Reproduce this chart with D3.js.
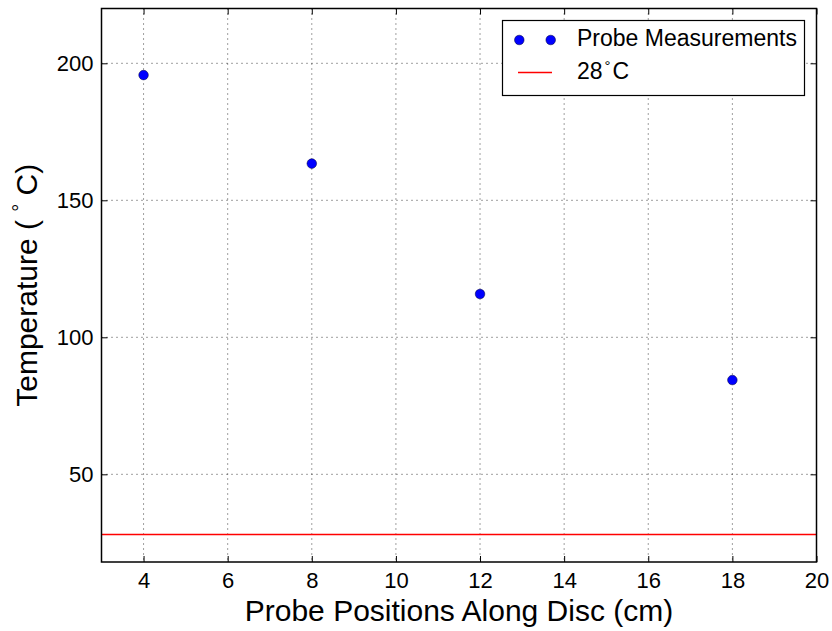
<!DOCTYPE html>
<html><head><meta charset="utf-8">
<script src="https://cdn.jsdelivr.net/npm/d3@7/dist/d3.min.js"></script>
<style>body{margin:0;background:#fff}svg{display:block}text{font-family:"Liberation Sans",Arial,sans-serif;fill:#000}</style>
</head><body><svg id="c" width="832" height="631"></svg>
<script>
const positions=[4,8,12,18];
const temps=[195.7,163.4,115.8,84.4];
const refTemp=28;
const xTicks=[4,6,8,10,12,14,16,18,20];
const yTicks=[50,100,150,200];

const svg=d3.select("#c");
const L=101.5,R=816.5,T=8.5,B=562;
const x=d3.scaleLinear().domain([3,20]).range([L,R]);
const y=d3.scaleLinear().domain([18,220]).range([B,T]);

// grid
const g=svg.append("g");
g.selectAll(".gx").data(xTicks.filter(d=>d<20)).enter().append("line")
 .attr("x1",d=>x(d)).attr("x2",d=>x(d)).attr("y1",T).attr("y2",B)
 .attr("stroke","#000").attr("stroke-width",1).attr("stroke-dasharray","1,4").attr("opacity",0.75);
g.selectAll(".gy").data(yTicks).enter().append("line")
 .attr("y1",d=>y(d)).attr("y2",d=>y(d)).attr("x1",L).attr("x2",R)
 .attr("stroke","#000").attr("stroke-width",1).attr("stroke-dasharray","1,4").attr("opacity",0.75);

// axes with inner ticks
const tl=6;
const xb=svg.append("g").attr("transform",`translate(0,${B})`).call(d3.axisBottom(x).tickValues(xTicks).tickSize(-tl).tickPadding(10).tickFormat(d3.format("d")));
const xt=svg.append("g").attr("transform",`translate(0,${T})`).call(d3.axisTop(x).tickValues(xTicks).tickSize(-tl).tickFormat(""));
const yl=svg.append("g").attr("transform",`translate(${L},0)`).call(d3.axisLeft(y).tickValues(yTicks).tickSize(-tl).tickPadding(8).tickFormat(d3.format("d")));
const yr=svg.append("g").attr("transform",`translate(${R},0)`).call(d3.axisRight(y).tickValues(yTicks).tickSize(-tl).tickFormat(""));
[xb,xt,yl,yr].forEach(a=>{
  a.attr("font-size",22).attr("font-family",'"Liberation Sans",Arial,sans-serif');
  a.select(".domain").remove();
  a.selectAll("line").attr("stroke","#000").attr("stroke-width",1);
  a.selectAll("text").attr("font-size",22).style("font-size","22px").attr("fill","#000");
});

// red line
svg.append("line").attr("x1",L).attr("x2",R).attr("y1",y(refTemp)).attr("y2",y(refTemp)).attr("stroke","#ff0000").attr("stroke-width",1.5);

// points
svg.selectAll(".pt").data(positions).enter().append("circle")
 .attr("cx",d=>x(d)).attr("cy",(d,i)=>y(temps[i])).attr("r",4.8).attr("fill","#0000ff").attr("stroke","#000033").attr("stroke-width",0.5);

// frame
svg.append("rect").attr("x",L).attr("y",T).attr("width",R-L).attr("height",B-T).attr("fill","none").attr("stroke","#000").attr("stroke-width",1.5);

// labels
svg.append("text").attr("x",(L+R)/2).attr("y",621).attr("text-anchor","middle").style("font-size","30px").text("Probe Positions Along Disc (cm)");
const yt=svg.append("text").attr("transform",`translate(37,${(T+B)/2}) rotate(-90)`).attr("text-anchor","middle").style("font-size","30px");
yt.append("tspan").text("Temperature ( ");
yt.append("tspan").text("\u00b0").attr("dy",-10).style("font-size","20px");
yt.append("tspan").text(" C)").attr("dy",10);

// legend
const lg=svg.append("g");
lg.append("rect").attr("x",502.5).attr("y",20.5).attr("width",302).attr("height",75).attr("fill","#fff").attr("stroke","#000").attr("stroke-width",1.2);
[519.3,550.7].forEach(cx=>lg.append("circle").attr("cx",cx).attr("cy",40).attr("r",4.8).attr("fill","#0000ff").attr("stroke","#000033").attr("stroke-width",0.5));
lg.append("line").attr("x1",518).attr("x2",552).attr("y1",72.5).attr("y2",72.5).attr("stroke","#ff0000").attr("stroke-width",1.5);
lg.append("text").attr("x",577).attr("y",46).style("font-size","23px").text("Probe Measurements");
const t2=lg.append("text").attr("x",577).attr("y",79).style("font-size","23px");
t2.append("tspan").text("28");
t2.append("tspan").text("\u00b0").attr("dy",-8).attr("dx",2).style("font-size","15px");
t2.append("tspan").text("C").attr("dy",8).attr("dx",2);
</script></body></html>
